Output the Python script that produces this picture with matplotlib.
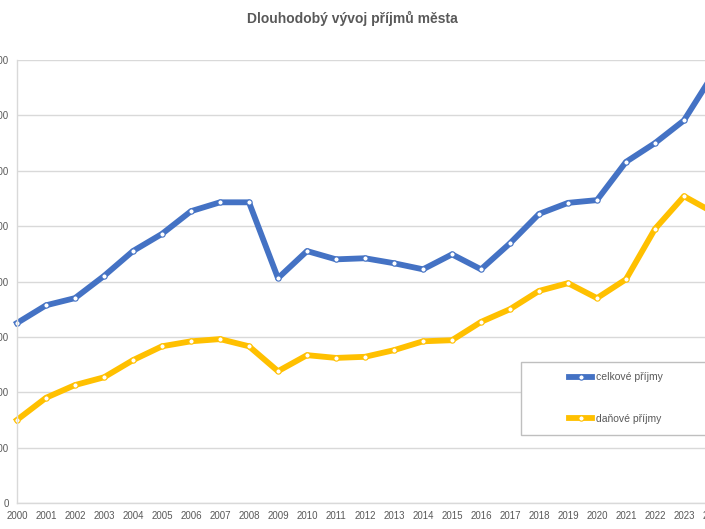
import matplotlib
matplotlib.use("Agg")
import matplotlib.pyplot as plt
from matplotlib.patches import Rectangle

# data (units as on the y axis)
years = list(range(2000, 2025))
celkove = [325, 357, 370, 410, 455, 486, 527, 543, 543, 406, 455, 440, 442,
           433, 422, 449, 422, 469, 522, 542, 547, 616, 650, 691, 774]
danove = [150, 190, 213, 227, 258, 283, 292, 296, 283, 238, 267, 262, 264,
          276, 292, 294, 327, 350, 383, 397, 370, 404, 495, 554, 525]
y_ticks = list(range(0, 900, 100))

BLUE = "#4472C4"
GOLD = "#FFC000"
GRID = "#D9D9D9"
TXT = "#595959"

plt.rcParams["font.family"] = ["Liberation Sans", "DejaVu Sans"]

W, H = 705, 529
fig = plt.figure(figsize=(W / 100, H / 100), dpi=100)

# plot area runs past the right edge of the picture (2024 is cut off)
x0, x1, y_top, y_bot = 17, 713, 60, 503
ax = fig.add_axes([x0 / W, 1 - y_bot / H, (x1 - x0) / W, (y_bot - y_top) / H])

ax.plot(years, celkove, color=BLUE, lw=4.2, marker="o", ms=3.8,
        mfc="white", mec=BLUE, mew=0.8, label="celkové příjmy",
        solid_joinstyle="round", clip_on=False)
ax.plot(years, danove, color=GOLD, lw=4.2, marker="o", ms=3.8,
        mfc="white", mec=GOLD, mew=0.8, label="daňové příjmy",
        solid_joinstyle="round", clip_on=False)

ax.set_xlim(2000, 2024)
ax.set_ylim(0, 800)
ax.set_xticks(years)
ax.set_xticklabels([str(y) for y in years])
ax.set_yticks(y_ticks)
ax.grid(axis="y", color=GRID, lw=1)
ax.set_axisbelow(True)
ax.tick_params(length=0, labelsize=7, colors=TXT, pad=6)
for s in ["top", "right"]:
    ax.spines[s].set_visible(False)
for s in ["left", "bottom"]:
    ax.spines[s].set_color(GRID)
    ax.spines[s].set_linewidth(1)

fig.text(352 / W, 1 - 18 / H, "Dlouhodobý vývoj příjmů města",
         ha="center", va="center", fontsize=10, fontweight="bold", color=TXT)

# legend box, also cut off on the right
fig.patches.append(Rectangle((521 / W, 1 - 435 / H), 200 / W, 73 / H,
                             transform=fig.transFigure, fill=True,
                             facecolor="white", edgecolor="#BFBFBF", lw=1,
                             zorder=5))
leg = fig.legend(loc="center left", bbox_to_anchor=(560 / W, 1 - 398 / H),
                 frameon=False, fontsize=7.5, labelspacing=3.0,
                 handlelength=2.2, handletextpad=0.35, labelcolor=TXT)
leg.set_zorder(6)

fig.savefig("out.png", dpi=100)
